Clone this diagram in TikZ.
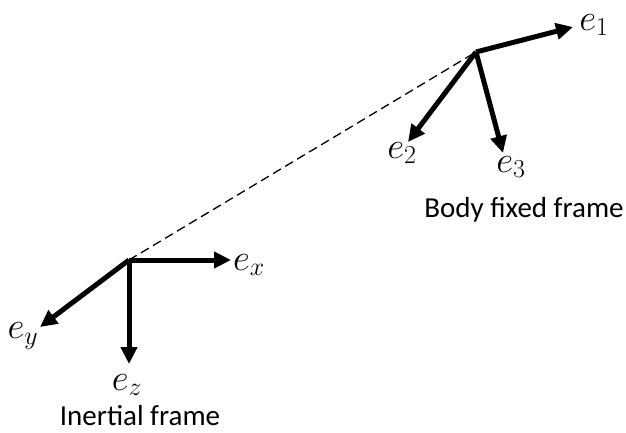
\RequirePackage{fix-cm}
\documentclass[tikz,border=0pt]{standalone}
\usepackage{fontspec}
\setmainfont{Carlito}
\usepackage{tikz}
\usetikzlibrary{arrows.meta,positioning}

\begin{document}
\begin{tikzpicture}[
      x=1pt, y=-1pt,
      vec/.style={-{Triangle[length=17pt,width=16pt]}, line width=5pt},
      link/.style={dashed, line width=1.3pt, dash pattern=on 9pt off 5pt},
      lbl/.style={inner sep=0pt, font=\fontsize{37}{40}\selectfont},
      framename/.style={inner sep=0pt, font=\fontsize{29}{32}\selectfont},
      node distance=4pt]
    \useasboundingbox (0,0) rectangle (626,433);
    % inertial frame
    \coordinate (O) at (129,260);
    \coordinate (ex) at (231,260);
    \coordinate (ey) at (40,327);
    \coordinate (ez) at (129,364);
    % body fixed frame
    \coordinate (B) at (476,52);
    \coordinate (e1) at (573,27);
    \coordinate (e2) at (408,142);
    \coordinate (e3) at (503,153);
    \draw[link] (O) -- (B);
    \draw[vec] (O) -- (ex);
    \draw[vec] (O) -- (ey);
    \draw[vec] (O) -- (ez);
    \draw[vec] (B) -- (e1);
    \draw[vec] (B) -- (e2);
    \draw[vec] (B) -- (e3);
    \node[lbl] (lx) at (249,265) {$e_x$};
    \node[lbl] (ly) at (23,336) {$e_y$};
    \node[lbl] (lz) at (127,385) {$e_z$};
    \node[lbl] (l1) at (594,25) {$e_1$};
    \node[lbl] (l2) at (402,153) {$e_2$};
    \node[lbl] (l3) at (511,167) {$e_3$};
    \node[framename] (inertial) at (140,416) {Inertial frame};
    \node[framename] (body) at (524,210) {Body fixed frame};
  \end{tikzpicture}
\end{document}
